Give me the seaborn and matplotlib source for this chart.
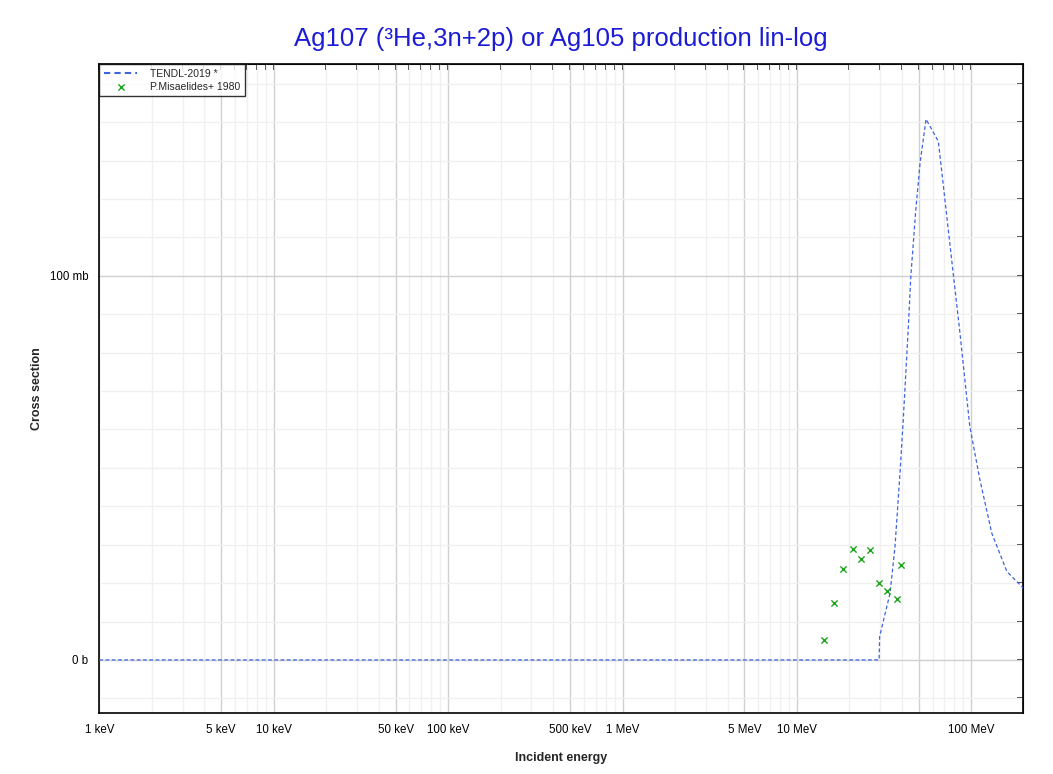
import matplotlib
matplotlib.use("Agg")
import numpy as np
import pandas as pd
import matplotlib.pyplot as plt
import seaborn as sns
from matplotlib.ticker import FixedLocator, FixedFormatter, NullFormatter

# TENDL-2019 evaluation (energy in MeV, cross section in mb)
tendl_energy = [0.001, 29.6, 29.8, 34.2, 36.5, 39.0, 40.7, 43.5, 45.0, 48.0,
                50.8, 55.0, 64.7, 79.0, 85.4, 98.0, 112.0, 131.0, 160.0, 198.6]
tendl_xs = [0.0, 0.0, 6.1, 17.4, 29.5, 48.7, 62.5, 86.5, 100.0, 117.0,
            129.3, 140.8, 135.0, 100.0, 86.5, 60.8, 46.9, 33.0, 23.0, 18.7]

# P.Misaelides+ 1980 measurements
exp_energy = [14.25, 16.3, 18.3, 20.9, 23.4, 26.3, 29.4, 32.9, 37.7, 39.4]
exp_xs = [5.1, 14.7, 23.6, 28.9, 26.4, 28.6, 20.0, 18.0, 15.8, 24.6]

x_major = [1e-3, 5e-3, 1e-2, 5e-2, 1e-1, 5e-1, 1, 5, 10, 50, 100]
x_labels = ["1 keV", "5 keV", "10 keV", "50 keV", "100 keV", "500 keV",
            "1 MeV", "5 MeV", "10 MeV", "", "100 MeV"]
y_major = [0, 100]
y_labels = ["0 b", "100 mb"]

sns.set_style("white")
plt.rcParams["font.family"] = ["Liberation Sans", "DejaVu Sans"]

fig, ax = plt.subplots(figsize=(10.53, 7.74), dpi=100)
fig.subplots_adjust(left=0.0943, right=0.9718, bottom=0.0784, top=0.917)

tendl = pd.DataFrame({"energy": tendl_energy, "xs": tendl_xs})
exp = pd.DataFrame({"energy": exp_energy, "xs": exp_xs})

sns.lineplot(data=tendl, x="energy", y="xs", ax=ax, color="#3d63e0", lw=0.9,
             dashes=False, linestyle=(0, (3, 2)), label="TENDL-2019 *",
             estimator=None, sort=False, zorder=3)
sns.scatterplot(data=exp, x="energy", y="xs", ax=ax, marker="x", color="#1aa51a",
                s=20, linewidth=1.0, label="P.Misaelides+ 1980", zorder=4)

ax.set_xscale("log")
ax.set_xlim(1e-3, 198.6)
ax.set_ylim(-13.9, 155.1)

minor_x = [m * 10.0 ** k for k in range(-3, 3) for m in (2, 3, 4, 6, 7, 8, 9)]
minor_x = [v for v in minor_x if v < 198.6]
ax.xaxis.set_major_locator(FixedLocator(x_major))
ax.xaxis.set_major_formatter(FixedFormatter(x_labels))
ax.xaxis.set_minor_locator(FixedLocator(minor_x))
ax.xaxis.set_minor_formatter(NullFormatter())
minor_y = [v for v in range(-10, 160, 10) if v not in y_major]
ax.yaxis.set_major_locator(FixedLocator(y_major))
ax.yaxis.set_major_formatter(FixedFormatter(y_labels))
ax.yaxis.set_minor_locator(FixedLocator(minor_y))

ax.grid(which="major", color="#d0d0d0", lw=1.0)
ax.grid(which="minor", color="#f0f0f0", lw=1.0)
ax.set_axisbelow(True)

for s in ax.spines.values():
    s.set_color("black")
    s.set_linewidth(1.2)

ax.tick_params(axis="x", which="major", direction="inout", length=9, width=1.1,
               labelsize=8.3, colors="black", pad=3)
ax.tick_params(axis="x", which="minor", direction="in", length=4, width=1.1,
               color="black")
ax.tick_params(axis="y", which="major", direction="out", length=6, width=1.1,
               labelsize=8.3, colors="black", pad=2)
ax.tick_params(axis="y", which="minor", direction="in", length=4, width=1.1,
               color="black")

# inward ticks on the top and right frame
top = ax.secondary_xaxis("top")
top.xaxis.set_major_locator(FixedLocator(x_major))
top.xaxis.set_minor_locator(FixedLocator(minor_x))
top.tick_params(which="both", direction="in", length=4, width=1.1, color="black",
                labeltop=False)
right = ax.secondary_yaxis("right")
right.yaxis.set_major_locator(FixedLocator(y_major))
right.yaxis.set_minor_locator(FixedLocator(minor_y))
right.tick_params(which="both", direction="in", length=4, width=1.1, color="black",
                  labelright=False)

ax.set_xlabel("Incident energy", fontsize=9, fontweight="bold")
ax.set_ylabel("Cross section", fontsize=9, fontweight="bold")
ax.xaxis.set_label_coords(0.5, -0.0596)
ax.yaxis.set_label_coords(-0.061, 0.5)
ax.set_title("Ag107 (³He,3n+2p) or Ag105 production lin-log", color="#1c1cd6",
             fontsize=18.5, pad=13)

leg = ax.legend(loc="upper left", fontsize=7.5, frameon=True, fancybox=False,
                borderaxespad=0, handlelength=3.2, borderpad=0.45,
                labelspacing=0.25, handletextpad=1.2)
leg.get_frame().set_edgecolor("black")
leg.get_frame().set_linewidth(1.0)
leg.get_lines()[0].set_linestyle((0, (3, 2)))
leg.get_lines()[0].set_linewidth(1.5)

fig.savefig("out.png", dpi=100)
